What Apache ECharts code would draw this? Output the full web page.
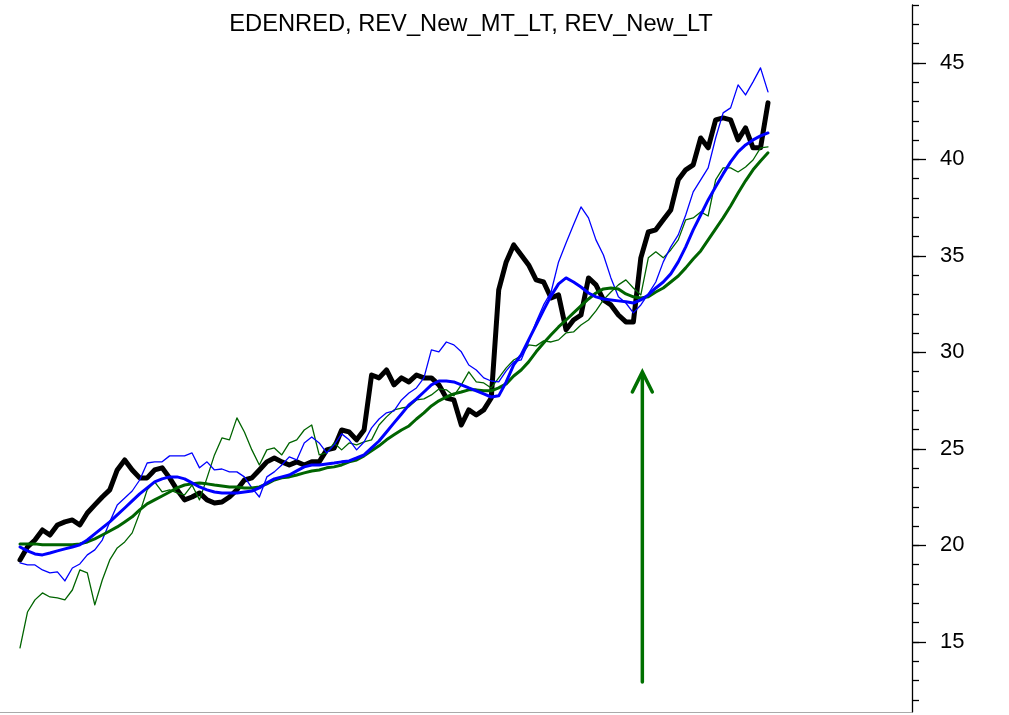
<!DOCTYPE html>
<html><head><meta charset="utf-8">
<script src="https://cdn.jsdelivr.net/npm/echarts@6/dist/echarts.min.js"></script>
<style>html,body{margin:0;padding:0;background:#fff}#c{width:1009px;height:715px}</style>
</head><body><div id="c"></div>
<script>
const titleText = 'EDENRED, REV_New_MT_LT, REV_New_LT';

// EDENRED price (thick black)
const priceEdenred = [19.25,19.92,20.28,20.8,20.54,21.06,21.22,21.32,21.06,21.68,
22.1,22.51,22.88,23.91,24.43,23.91,23.5,23.5,23.91,24.02,
23.5,22.88,22.36,22.51,22.72,22.36,22.2,22.25,22.51,22.88,
23.39,23.5,23.91,24.33,24.53,24.33,24.17,24.33,24.17,24.33,
24.33,24.95,25.05,25.98,25.88,25.47,25.98,28.83,28.68,29.09,
28.32,28.68,28.47,28.83,28.68,28.68,28.32,27.64,27.54,26.24,
27.02,26.76,27.02,27.64,33.24,34.69,35.57,35.05,34.53,33.76,
33.65,32.82,32.98,31.17,31.68,31.94,33.86,33.5,32.72,32.46,
31.94,31.58,31.58,34.9,36.24,36.35,36.87,37.38,38.94,39.46,
39.72,41.11,40.6,42.05,42.15,42.05,41.01,41.63,40.6,40.6,42.93];

// REV_New_MT_LT (thin blue) and its average (thick blue)
const revMtLt = [19.09,18.99,18.99,18.73,18.58,18.63,18.16,18.83,19.04,19.51,
19.77,20.28,21.22,22.1,22.46,22.82,23.39,24.27,24.33,24.33,
24.64,24.64,24.64,24.79,24.02,24.33,23.91,23.96,23.81,23.81,
23.55,22.98,22.51,23.55,23.81,24.17,24.59,24.43,25.31,25.62,
25.31,24.79,25.21,25.78,25.47,24.95,25.36,26.09,26.55,26.87,
26.97,27.54,27.9,28.16,28.68,30.13,30.03,30.54,30.39,30.03,
29.35,29.09,28.68,28.52,28.47,29.04,29.51,29.61,30.54,31.58,
32.46,33.13,34.69,35.67,36.61,37.54,36.97,35.83,35.05,33.86,
32.88,32.56,32.05,32.46,33.03,33.65,34.69,35.47,36.09,37.12,
38.32,38.94,39.56,41.11,42.41,42.67,43.86,43.34,44.02,44.74,43.5];
const revMtLtAvg = [19.92,19.72,19.56,19.51,19.61,19.72,19.82,19.92,20.03,20.28,
20.6,20.91,21.22,21.58,21.94,22.31,22.67,22.98,23.29,23.45,
23.55,23.55,23.45,23.24,23.03,22.88,22.77,22.72,22.72,22.72,
22.77,22.82,22.98,23.24,23.45,23.55,23.65,23.86,24.07,24.17,
24.17,24.22,24.27,24.33,24.38,24.53,24.69,25.05,25.41,25.88,
26.35,26.81,27.28,27.59,27.95,28.32,28.52,28.52,28.47,28.32,
28.16,28.01,27.85,27.69,27.75,28.47,29.35,29.87,30.65,31.42,
32.2,32.93,33.55,33.86,33.65,33.39,33.08,32.88,32.77,32.72,
32.67,32.62,32.56,32.72,32.98,33.34,33.65,34.07,34.69,35.47,
36.35,37.12,37.9,38.58,39.25,39.87,40.39,40.75,41.01,41.22,41.37];

// REV_New_LT (thin green) and its average (thick green)
const revLt = [14.69,16.55,17.18,17.54,17.33,17.28,17.18,17.69,18.73,18.58,
16.92,18.21,19.25,19.87,20.18,20.65,21.68,22.88,23.29,22.77,
22.88,22.72,22.62,23.13,22.36,23.5,24.69,25.57,25.47,26.61,
25.88,24.95,24.17,24.95,25.05,24.69,25.31,25.47,25.98,26.24,
24.69,24.79,25.31,24.95,25.31,25.21,25.36,25.47,26.24,26.66,
27.02,27.12,27.18,27.54,27.59,27.8,28.11,28.06,27.75,28.32,
28.99,28.47,28.42,28.16,28.68,29.2,29.61,29.82,30.39,30.34,
30.6,30.54,30.65,31.01,31.06,31.42,31.68,32.15,32.72,33.13,
33.5,33.76,33.34,32.98,34.9,35.21,34.9,35.31,35.83,36.87,
36.97,37.28,37.07,38.94,39.56,39.56,39.35,39.61,39.97,40.6,40.65];
const revLtAvg = [20.08,20.08,20.08,20.03,20.03,20.03,20.03,20.03,20.08,20.18,
20.34,20.54,20.75,20.96,21.22,21.48,21.84,22.15,22.36,22.56,
22.77,22.98,23.13,23.19,23.24,23.19,23.13,23.08,23.03,23.03,
22.98,22.98,23.03,23.19,23.39,23.5,23.55,23.65,23.76,23.86,
23.91,24.02,24.07,24.17,24.33,24.43,24.64,24.9,25.16,25.47,
25.73,25.98,26.19,26.55,26.87,27.23,27.49,27.69,27.85,27.95,
28.06,28.06,28.01,28.01,28.16,28.37,28.78,29.09,29.51,30.03,
30.49,30.91,31.32,31.68,32.05,32.41,32.77,33.08,33.29,33.34,
33.29,33.03,32.88,32.82,32.88,33.13,33.34,33.65,33.96,34.38,
34.84,35.26,35.83,36.4,36.97,37.59,38.26,38.89,39.46,39.92,40.34];

// Y-axis ticks
const yMinorTicks = [12,13,14,15,16,17,18,19,20,21,22,23,24,25,26,27,28,29,30,31,32,33,34,35,36,37,38,39,40,41,42,43,44,45,46,47,48];
const yMajorTicks = [15,20,25,30,35,40,45];

// Signal arrow (index position, value from, value to)
const arrowAt = [83.2];
const arrowFrom = [12.93];
const arrowTo = [28.99];

// ---------- layout ----------
const W = 1009;
const gridLeft = 0, gridRight = 97, gridTop = 5, gridBottom = 3;
const firstX = 20, lastX = 768;
const n = priceEdenred.length;
const step = (lastX - firstX) / (n - 1);
const xMin = -(firstX - gridLeft) / step;
const xMax = (n - 1) + (W - gridRight - lastX) / step;
const yMin = 11.37, yMax = 48.0;
const FONT = 'Liberation Sans, Arial, sans-serif';

const toXY = arr => arr.map((v, i) => [i, v]);
const lineSeries = (name, arr, color, width, z) => ({
  name, type: 'line', data: toXY(arr), showSymbol: false, symbol: 'none',
  lineStyle: { color, width, join: 'round', cap: 'round' }, z, silent: true, animation: false
});

const chart = echarts.init(document.getElementById('c'), null, { renderer: 'canvas' });
chart.setOption({
  animation: false,
  backgroundColor: '#fff',
  title: {
    text: titleText, left: 466, top: 7, textAlign: 'center',
    textStyle: { fontFamily: FONT, fontWeight: 'normal', fontSize: 23.7, color: '#000' }
  },
  grid: { left: gridLeft, right: gridRight, top: gridTop, bottom: gridBottom, containLabel: false },
  xAxis: {
    type: 'value', min: xMin, max: xMax,
    axisLine: { show: true, onZero: false, lineStyle: { color: '#aaa', width: 1 } },
    axisTick: { show: false }, axisLabel: { show: false }, splitLine: { show: false }
  },
  yAxis: [
    {
      type: 'value', position: 'right', min: yMin, max: yMax,
      axisLine: { show: true, onZero: false, lineStyle: { color: '#000', width: 1.3 } },
      axisTick: { show: true, customValues: yMinorTicks, length: 7, inside: false, lineStyle: { color: '#000', width: 1.3 } },
      axisLabel: { show: false }, splitLine: { show: false }
    },
    {
      type: 'value', position: 'right', min: yMin, max: yMax,
      axisLine: { show: false, onZero: false },
      axisTick: { show: true, customValues: yMajorTicks, length: 14, inside: false, lineStyle: { color: '#000', width: 1.3 } },
      axisLabel: { show: true, customValues: yMajorTicks, margin: 28, fontFamily: FONT, fontSize: 22, color: '#000' },
      splitLine: { show: false }
    }
  ],
  series: [
    lineSeries('EDENRED', priceEdenred, '#000000', 5, 2),
    lineSeries('REV_New_LT', revLt, '#006400', 1.3, 3),
    lineSeries('REV_New_MT_LT', revMtLt, '#0000ff', 1.3, 4),
    lineSeries('REV_New_LT avg', revLtAvg, '#006400', 3, 5),
    lineSeries('REV_New_MT_LT avg', revMtLtAvg, '#0000ff', 3, 6),
    {
      type: 'custom', z: 7, silent: true,
      data: arrowAt.map((x, i) => [x, arrowFrom[i], arrowTo[i]]),
      renderItem: (params, api) => {
        const p0 = api.coord([api.value(0), api.value(1)]);
        const p1 = api.coord([api.value(0), api.value(2)]);
        const st = { stroke: '#007000', lineWidth: 3.5, fill: null, lineCap: 'round', lineJoin: 'miter' };
        return {
          type: 'group',
          children: [
            { type: 'line', shape: { x1: p0[0], y1: p0[1], x2: p1[0], y2: p1[1] + 2 }, style: st },
            { type: 'polyline', shape: { points: [[p1[0] - 10, p1[1] + 20], [p1[0], p1[1]], [p1[0] + 10, p1[1] + 20]] }, style: st }
          ]
        };
      }
    }
  ]
});
</script></body></html>
